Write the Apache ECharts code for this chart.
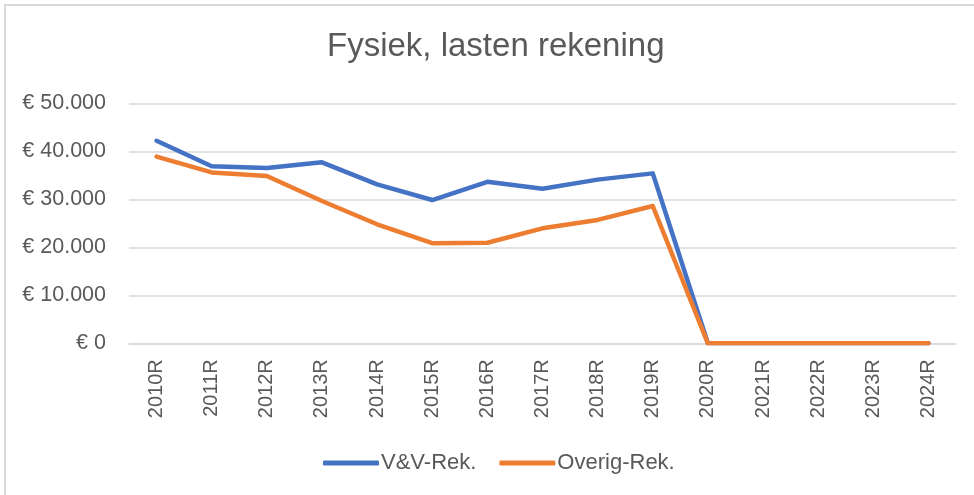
<!DOCTYPE html>
<html>
<head>
<meta charset="utf-8">
<script src="https://cdn.jsdelivr.net/npm/echarts@6/dist/echarts.min.js"></script>
<style>
  html, body { margin: 0; padding: 0; background: #fff; overflow: hidden; width: 974px; height: 495px; }
  #frame { position: absolute; left: 4px; top: 4px; width: 970px; height: 491px;
           border-top: 2px solid #d9d9d9; border-left: 2px solid #d9d9d9; box-sizing: border-box; }
  #chart { position: absolute; left: 0; top: 0; width: 974px; height: 495px; }
</style>
</head>
<body>
<div id="frame"></div>
<div id="chart"></div>
<script>
// Categories (years, realisatie)
const years = ['2010R','2011R','2012R','2013R','2014R','2015R','2016R','2017R','2018R','2019R','2020R','2021R','2022R','2023R','2024R'];

// Physical costs per account type (EUR)
const vvRek = [42200, 36900, 36500, 37700, 33100, 29850, 33650, 32200, 34100, 35400, 0, 0, 0, 0, 0];
const overigRek = [38900, 35600, 34850, 29650, 24800, 20850, 20950, 23950, 25700, 28600, 0, 0, 0, 0, 0];

// Value-axis ticks
const yTicks = [0, 10000, 20000, 30000, 40000, 50000];

const FONT = '"Liberation Sans", Arial, sans-serif';
const TEXT = '#595959';

function euro(v) {
  return '€ ' + String(v).replace(/\B(?=(\d{3})+(?!\d))/g, '.');
}

const chart = echarts.init(document.getElementById('chart'), null, { renderer: 'canvas' });
chart.setOption({
  animation: false,
  backgroundColor: 'transparent',
  title: {
    text: 'Fysiek, lasten rekening',
    left: 322,
    top: 25,
    textStyle: { fontFamily: FONT, fontSize: 33, fontWeight: 'normal', color: TEXT }
  },
  legend: {
    left: 318,
    top: 447,
    icon: 'roundRect',
    itemWidth: 56,
    itemHeight: 5,
    itemGap: 23,
    textStyle: { fontFamily: FONT, fontSize: 22, color: TEXT, padding: [0, 0, 0, -3] },
    data: ['V&V-Rek.', 'Overig-Rek.']
  },
  grid: { left: 129, right: 18, top: 103.3, bottom: 151.7 },
  xAxis: {
    type: 'category',
    data: years,
    boundaryGap: true,
    axisLine: { lineStyle: { color: '#d9d9d9', width: 1.5 } },
    axisTick: { show: false },
    axisLabel: { rotate: 90, margin: 16, fontFamily: FONT, fontSize: 20, color: TEXT, interval: 0 }
  },
  yAxis: {
    type: 'value',
    min: yTicks[0],
    max: yTicks[yTicks.length - 1],
    interval: yTicks[1] - yTicks[0],
    axisLine: { show: false },
    axisTick: { show: false },
    splitLine: { lineStyle: { color: '#d9d9d9', width: 1.5 } },
    axisLabel: { margin: 23, fontFamily: FONT, fontSize: 21.5, color: TEXT, formatter: euro }
  },
  series: [
    {
      name: 'V&V-Rek.',
      type: 'line',
      data: vvRek,
      symbol: 'none',
      lineStyle: { color: '#4472C4', width: 4.5, cap: 'round', join: 'round' },
      itemStyle: { color: '#4472C4' }
    },
    {
      name: 'Overig-Rek.',
      type: 'line',
      data: overigRek,
      symbol: 'none',
      lineStyle: { color: '#ED7D31', width: 4.5, cap: 'round', join: 'round' },
      itemStyle: { color: '#ED7D31' }
    }
  ]
});
</script>
</body>
</html>
